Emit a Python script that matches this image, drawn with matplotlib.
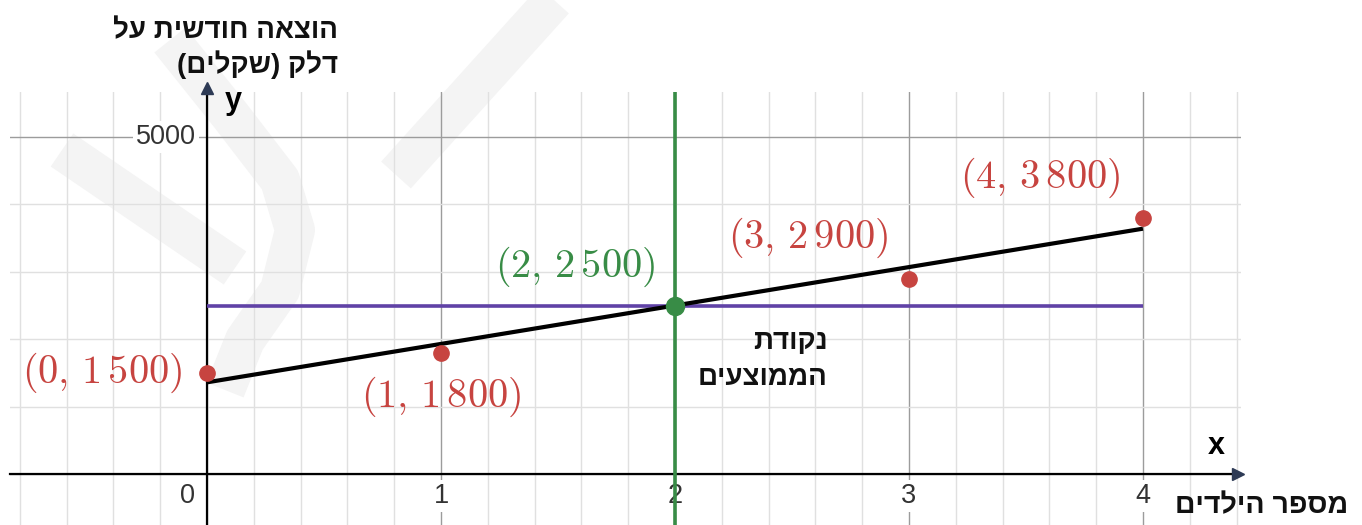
import matplotlib.pyplot as plt
from matplotlib.lines import Line2D
from matplotlib.ticker import MultipleLocator

# data
children = [0, 1, 3, 4]
fuel_cost = [1500, 1800, 2900, 3800]
mean_x, mean_y = 2, 2500
fit_x = [0, 4]
fit_y = [1360, 3640]
x_ticks = [1, 2, 3, 4]
y_tick = 5000

# label offsets in pixels (dx, dy, ha)
label_offsets = [(-25, 0, 'right'), (0, -44, 'center'), (-21, 41, 'right'), (-23, 40, 'right')]

red = '#c74440'
green = '#388c46'
purple = '#6042a6'
arrow_col = '#2d3a55'

W, H = 1362, 525
plt.rcParams['mathtext.fontset'] = 'cm'
heb_font = ['Liberation Sans', 'DejaVu Sans']


def visual(s):
    # matplotlib has no bidi, so flip hebrew to visual order
    s = s[::-1]
    return s.translate(str.maketrans('()', ')('))


def fpx(x, y):
    return x / W, 1 - y / H


def num_label(x, y):
    return r'$(%d,\,%d\,%03d)$' % (x, y // 1000, y % 1000)


fig = plt.figure(figsize=(W / 100, H / 100), dpi=100, facecolor='white')
ax = fig.add_axes([10 / W, 0, 1231 / W, 433 / H])
ax.set_facecolor('none')
ax.set_xlim(-0.842, 4.419)
ax.set_ylim(-757, 5668)

# faint watermark behind everything
wm_col = '#f4f4f4'
for pts, w in [([(62, 150), (235, 268)], 40),
               ([(170, 40), (230, 115), (280, 180), (295, 230), (280, 290), (245, 340), (225, 390)], 40),
               ([(396, 175), (554, 0)], 40)]:
    xs, ys = zip(*[fpx(*p) for p in pts])
    fig.add_artist(Line2D(xs, ys, color=wm_col, lw=w * 0.72, solid_capstyle='butt',
                          solid_joinstyle='round', zorder=0))

# grid
ax.xaxis.set_major_locator(MultipleLocator(1))
ax.xaxis.set_minor_locator(MultipleLocator(0.2))
ax.yaxis.set_major_locator(MultipleLocator(5000))
ax.yaxis.set_minor_locator(MultipleLocator(1000))
ax.grid(which='major', color='#9c9c9c', lw=1.0)
ax.grid(which='minor', color='#e0e0e0', lw=1.0)
ax.tick_params(which='both', length=0, labelbottom=False, labelleft=False)
for sp in ax.spines.values():
    sp.set_visible(False)
ax.set_axisbelow(True)

# axes with arrows
ax.plot([-0.842, 4.39], [0, 0], color='black', lw=1.6, clip_on=False, zorder=2)
ax.plot([0, 0], [-757, 5700], color='black', lw=1.6, clip_on=False, zorder=2)
ax.plot([4.405], [0], marker='>', color=arrow_col, ms=8, clip_on=False, zorder=3)
ax.plot([0], [5720], marker='^', color=arrow_col, ms=8, clip_on=False, zorder=3)

# lines
ax.plot(fit_x, [mean_y, mean_y], color=purple, lw=2.6, solid_capstyle='butt', zorder=3)
ax.plot(fit_x, fit_y, color='black', lw=3.0, solid_capstyle='butt', zorder=4)
ax.axvline(mean_x, color=green, lw=2.6, zorder=5)

# points
ax.plot(children, fuel_cost, 'o', color=red, ms=11, zorder=6)
ax.plot([mean_x], [mean_y], 'o', color=green, ms=13, zorder=7)

for x, y, (dx, dy, ha) in zip(children, fuel_cost, label_offsets):
    ax.annotate(num_label(x, y), (x, y), xytext=(dx * 0.72, dy * 0.72), textcoords='offset points',
                ha=ha, va='center', fontsize=29, color=red)
ax.annotate(num_label(mean_x, mean_y), (mean_x, mean_y), xytext=(-20 * 0.72, 39 * 0.72),
            textcoords='offset points', ha='right', va='center', fontsize=29, color=green)

# tick labels
tick_kw = dict(textcoords='offset points', va='center', fontsize=19.5, color='#333333',
               family='Liberation Sans', bbox=dict(fc='white', ec='none', pad=2))
for v in x_ticks:
    ax.annotate(str(v), (v, 0), xytext=(0, -22 * 0.72), ha='center', **tick_kw)
ax.annotate('0', (0, 0), xytext=(-20 * 0.72, -22 * 0.72), ha='center', **tick_kw)
ax.annotate(str(y_tick), (0, y_tick), xytext=(-11 * 0.72, 0), ha='right', **tick_kw)

# axis letters
fig.text(*fpx(233, 101), 'y', ha='center', va='center', fontsize=22, weight='bold', family=heb_font)
fig.text(*fpx(1216, 446), 'x', ha='center', va='center', fontsize=22, weight='bold', family=heb_font)

# hebrew texts
heb_kw = dict(ha='right', va='center', weight='bold', family=heb_font, color='#111111')
fig.text(*fpx(338, 31), visual('הוצאה חודשית על'), fontsize=20, **heb_kw)
fig.text(*fpx(338, 65), visual('דלק (שקלים)'), fontsize=20, **heb_kw)
fig.text(*fpx(828, 342), visual('נקודת'), fontsize=20, **heb_kw)
fig.text(*fpx(828, 378), visual('הממוצעים'), fontsize=20, **heb_kw)
fig.text(*fpx(1348, 506), visual('מספר הילדים'), fontsize=20.5, **heb_kw)

fig.savefig('out.png', dpi=100, facecolor='white')
